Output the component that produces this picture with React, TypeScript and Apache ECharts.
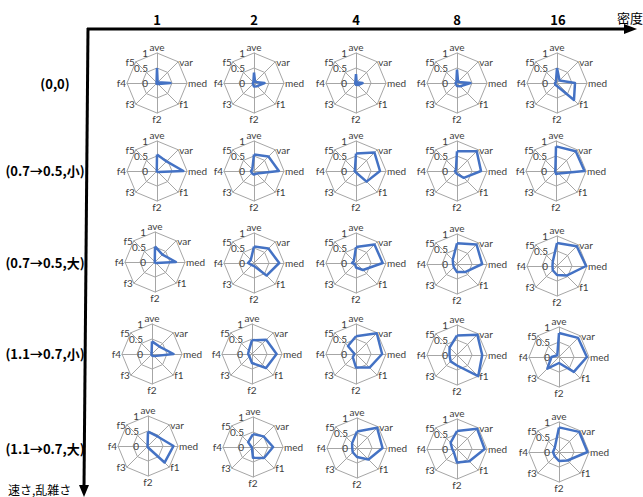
import React, { useEffect, useRef } from "react";
import * as echarts from "echarts";

// Axis names, clockwise from top
const AXES = ["ave", "var", "med", "f1", "f2", "f3", "f4", "f5"];
// Column headers (密度) and row headers (速さ,乱雑さ)
const COL_LABELS = ["1", "2", "4", "8", "16"];
const ROW_LABELS = ["(0,0)", "(0.7→0.5,小)", "(0.7→0.5,大)", "(1.1→0.7,小)", "(1.1→0.7,大)"];
const TICK_VALUES = [0, 0.5, 1];
const TICK_LABELS = ["0", "0.5", "1"];

// values per cell in AXES order: ave, var, med, f1, f2, f3, f4, f5
const row00 = [
  [0.5, 0.03, 0.45, 0.05, 0.03, 0.02, 0.02, 0.02],
  [0.35, 0.05, 0.35, 0.15, 0.12, 0.05, 0.04, 0.03],
  [0.3, 0.03, 0.22, 0.1, 0.06, 0.03, 0.03, 0.03],
  [0.45, 0.05, 0.45, 0.15, 0.1, 0.05, 0.05, 0.03],
  [0.5, 0.12, 0.6, 0.8, 0.1, 0.08, 0.07, 0.05],
];
const row07small = [
  [0.55, 0.45, 0.88, 0.05, 0.02, 0.01, 0.01, 0.01],
  [0.55, 0.68, 0.83, 0.12, 0.12, 0.1, 0.1, 0.08],
  [0.58, 0.87, 0.8, 0.5, 0.05, 0.03, 0.05, 0.05],
  [0.66, 0.93, 0.8, 0.32, 0.1, 0.06, 0.07, 0.05],
  [0.82, 0.93, 0.95, 0.12, 0.1, 0.03, 0.03, 0.03],
];
const row07large = [
  [0.52, 0.35, 0.7, 0.05, 0.02, 0.01, 0.01, 0.01],
  [0.55, 0.68, 0.84, 0.59, 0.1, 0.1, 0.2, 0.15],
  [0.53, 0.87, 0.89, 0.33, 0.15, 0.05, 0.13, 0.1],
  [0.69, 0.92, 0.84, 0.38, 0.27, 0.15, 0.13, 0.2],
  [0.77, 0.93, 0.97, 0.45, 0.3, 0.2, 0.15, 0.2],
];
const row11small = [
  [0.42, 0.35, 0.72, 0.1, 0.05, 0.02, 0.02, 0.02],
  [0.46, 0.67, 0.82, 0.66, 0.3, 0.12, 0.13, 0.15],
  [0.59, 0.98, 0.87, 0.64, 0.45, 0.15, 0.05, 0.38],
  [0.65, 0.96, 0.84, 1.0, 0.35, 0.3, 0.25, 0.35],
  [0.8, 0.9, 0.93, 0.7, 0.2, 0.55, 0.25, 0.08],
];
const row11large = [
  [0.48, 0.45, 0.85, 0.78, 0.05, 0.02, 0.02, 0.02],
  [0.43, 0.5, 0.67, 0.52, 0.36, 0.05, 0.05, 0.23],
  [0.55, 0.95, 0.85, 0.54, 0.3, 0.2, 0.16, 0.23],
  [0.6, 0.95, 0.92, 0.58, 0.45, 0.15, 0.16, 0.3],
  [0.82, 0.95, 0.95, 0.4, 0.3, 0.2, 0.2, 0.2],
];
const ROWS = [row00, row07small, row07large, row11small, row11large];

// layout (pixel) constants
const CENTER_X = [
  [157, 254, 356, 457, 557],
  [157, 254, 356, 457, 556],
  [155, 254, 356, 457, 557],
  [152, 252, 356, 457, 559],
  [148, 253, 357, 457, 559],
];
const CENTER_Y = [
  [83, 83, 83, 83, 83],
  [171, 171, 171, 171, 171],
  [262, 263, 263, 264, 266],
  [354, 354, 354, 355, 357],
  [446, 447, 448, 449, 452],
];
const COL_HEADER_X = [157, 254, 356, 457, 558];
const ROW_HEADER_X = [55, 45, 45, 45, 45];
const ROW_HEADER_Y = [83, 170, 262, 353, 448];
const R = 30;
// echarts radar goes counter-clockwise from top
const ORDER = [0, 7, 6, 5, 4, 3, 2, 1];

const LABEL_FONT = "Lato, 'Noto Sans', sans-serif";
const JP_FONT = "'Noto Sans CJK JP', 'Noto Sans', sans-serif";
const GRID = "#a6a6a6";
const TEXT = "#404040";
const BLUE = "#4472c4";

export default function App() {
  const ref = useRef<HTMLDivElement>(null);
  useEffect(() => {
    if (!ref.current) return;
    const chart = echarts.init(ref.current, null, { renderer: "svg" });
    const radars: any[] = [];
    const series: any[] = [];
    const graphic: any[] = [];
    ROWS.forEach((row, r) => {
      row.forEach((vals, c) => {
        const cx = CENTER_X[r][c];
        const cy = CENTER_Y[r][c];
        radars.push({
          center: [cx, cy],
          radius: R,
          startAngle: 90,
          splitNumber: 2,
          shape: "polygon",
          indicator: ORDER.map((i) => ({ name: AXES[i], min: 0, max: 1 })),
          axisName: { show: false },
          splitLine: { lineStyle: { color: GRID, width: 1 } },
          splitArea: { show: false },
          axisLine: { lineStyle: { color: GRID, width: 1 } },
          axisTick: { show: false },
          axisLabel: { show: false },
        });
        series.push({
          type: "radar",
          radarIndex: radars.length - 1,
          symbol: "none",
          lineStyle: { color: BLUE, width: 2.5 },
          itemStyle: { color: BLUE },
          data: [{ value: ORDER.map((i) => vals[i]) }],
        });
        // axis names, placed Excel-style around the outer ring
        AXES.forEach((name, i) => {
          const ang = (i * Math.PI) / 4;
          const s = Math.sin(ang);
          const co = Math.cos(ang);
          const vx = cx + R * s;
          const vy = cy - R * co;
          let align = "center";
          let vAlign = "middle";
          let x = vx;
          let y = vy;
          if (Math.abs(s) < 0.01) {
            vAlign = co > 0 ? "bottom" : "top";
            y = co > 0 ? vy - 1 : vy + 1;
          } else if (s > 0) {
            align = "left";
            x = vx + 1;
          } else {
            align = "right";
            x = vx - 1;
          }
          graphic.push({
            type: "text",
            x,
            y,
            style: {
              text: name,
              fill: TEXT,
              fontSize: 10,
              fontFamily: LABEL_FONT,
              align,
              verticalAlign: vAlign,
            },
            z: 10,
          });
        });
        TICK_VALUES.forEach((v, k) => {
          graphic.push({
            type: "text",
            x: cx - 9,
            y: cy - R * v,
            style: {
              text: TICK_LABELS[k],
              fill: TEXT,
              fontSize: 10,
              fontFamily: LABEL_FONT,
              align: "right",
              verticalAlign: "middle",
            },
            z: 10,
          });
        });
      });
    });
    COL_LABELS.forEach((t, c) => {
      graphic.push({
        type: "text",
        x: COL_HEADER_X[c],
        y: 19,
        style: {
          text: t,
          fill: "#000",
          fontSize: 13,
          fontWeight: "bold",
          fontFamily: JP_FONT,
          align: "center",
          verticalAlign: "middle",
        },
      });
    });
    ROW_LABELS.forEach((t, r) => {
      graphic.push({
        type: "text",
        x: ROW_HEADER_X[r],
        y: ROW_HEADER_Y[r],
        style: {
          text: t,
          fill: "#000",
          fontSize: 13,
          fontWeight: "bold",
          fontFamily: JP_FONT,
          align: "center",
          verticalAlign: "middle",
        },
      });
    });
    graphic.push(
      { type: "line", shape: { x1: 87, y1: 29, x2: 626, y2: 29 }, style: { stroke: "#000", lineWidth: 3 } },
      { type: "polygon", shape: { points: [[624, 24], [637, 29], [624, 34]] }, style: { fill: "#000" } },
      { type: "line", shape: { x1: 88, y1: 28, x2: 84, y2: 487 }, style: { stroke: "#000", lineWidth: 3 } },
      { type: "polygon", shape: { points: [[79, 485], [84, 497], [89, 485]] }, style: { fill: "#000" } },
      {
        type: "text",
        x: 643,
        y: 17,
        style: { text: "密度", fill: "#000", fontSize: 13, fontFamily: JP_FONT, align: "right", verticalAlign: "middle" },
      },
      {
        type: "text",
        x: 8,
        y: 489,
        style: { text: "速さ,乱雑さ", fill: "#000", fontSize: 12, fontFamily: JP_FONT, align: "left", verticalAlign: "middle" },
      }
    );
    chart.setOption({
      animation: false,
      backgroundColor: "#fff",
      radar: radars,
      series,
      graphic,
    });
    return () => chart.dispose();
  }, []);
  return (
    <div
      ref={ref}
      style={{ position: "fixed", left: 0, top: 0, width: 643, height: 497 }}
    />
  );
}
